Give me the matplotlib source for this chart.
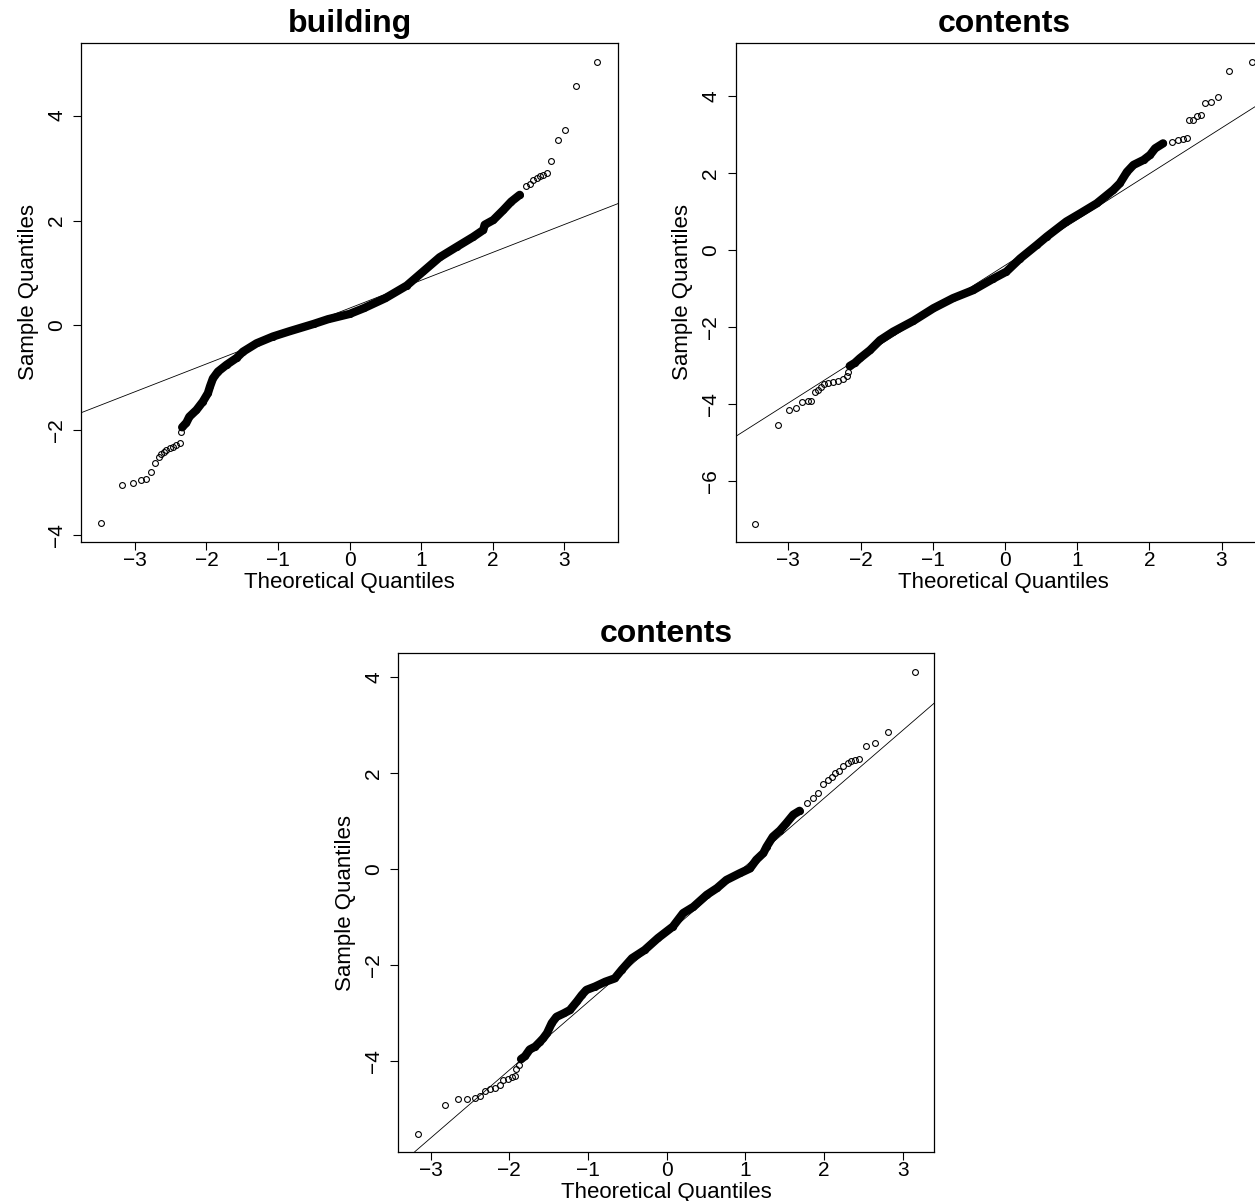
import matplotlib
matplotlib.use("Agg")
import matplotlib.pyplot as plt

plt.rcParams['font.family'] = ['Liberation Sans', 'DejaVu Sans']

# --- building: points (theoretical, sample) ---
building_tail_lo_x = [-3.48, -3.18, -3.03, -2.92, -2.84, -2.78, -2.72, -2.67, -2.64, -2.60,
                      -2.56, -2.51, -2.47, -2.42, -2.37, -2.36]
building_tail_lo_y = [-3.77, -3.04, -3.00, -2.95, -2.93, -2.80, -2.62, -2.50, -2.45, -2.41,
                      -2.38, -2.34, -2.31, -2.27, -2.24, -2.03]
building_mid_x = [-2.34, -2.28, -2.24, -2.14, -2.05, -1.98, -1.95, -1.91, -1.84, -1.72,
                  -1.58, -1.49, -1.30, -1.07, -0.84, -0.50, -0.30, 0.00, 0.20, 0.50,
                  0.80, 1.03, 1.26, 1.50, 1.73, 1.87, 1.89, 2.01, 2.15, 2.26, 2.38]
building_mid_y = [-1.94, -1.85, -1.74, -1.61, -1.45, -1.29, -1.16, -1.01, -0.88, -0.75,
                  -0.62, -0.50, -0.34, -0.21, -0.11, 0.03, 0.12, 0.22, 0.33, 0.52,
                  0.76, 1.03, 1.30, 1.50, 1.69, 1.82, 1.92, 2.01, 2.20, 2.36, 2.49]
building_tail_hi_x = [2.47, 2.52, 2.57, 2.62, 2.66, 2.71, 2.76, 2.82, 2.91, 3.01, 3.16, 3.46]
building_tail_hi_y = [2.65, 2.70, 2.78, 2.81, 2.84, 2.87, 2.90, 3.14, 3.54, 3.72, 4.56, 5.03]
building_line = (0.33, 0.531)  # intercept, slope of the reference line

# --- contents (top right) ---
contents1_tail_lo_x = [-3.46, -3.14, -2.99, -2.89, -2.81, -2.73, -2.68, -2.63, -2.59, -2.55,
                       -2.51, -2.45, -2.38, -2.31, -2.24, -2.19, -2.17]
contents1_tail_lo_y = [-7.10, -4.55, -4.14, -4.10, -3.94, -3.91, -3.91, -3.68, -3.62, -3.55,
                       -3.48, -3.45, -3.43, -3.39, -3.34, -3.27, -3.16]
contents1_mid_x = [-2.15, -2.08, -2.01, -1.87, -1.73, -1.55, -1.27, -0.99, -0.72, -0.44,
                   -0.16, 0.02, 0.21, 0.44, 0.58, 0.85, 1.04, 1.27, 1.50, 1.59,
                   1.69, 1.78, 1.92, 2.01, 2.08, 2.19]
contents1_mid_y = [-3.01, -2.93, -2.81, -2.60, -2.34, -2.12, -1.84, -1.51, -1.25, -1.04,
                   -0.74, -0.56, -0.22, 0.13, 0.35, 0.74, 0.95, 1.21, 1.56, 1.73,
                   2.03, 2.21, 2.34, 2.47, 2.64, 2.77]
contents1_tail_hi_x = [2.31, 2.40, 2.47, 2.52, 2.55, 2.61, 2.66, 2.71, 2.77, 2.85, 2.95, 3.10, 3.42]
contents1_tail_hi_y = [2.81, 2.87, 2.89, 2.92, 3.38, 3.39, 3.48, 3.51, 3.81, 3.85, 3.98, 4.66, 4.88]
contents1_line = (-0.40, 1.19)

# --- contents (bottom) ---
contents2_tail_lo_x = [-3.16, -2.82, -2.65, -2.54, -2.44, -2.37, -2.31, -2.25, -2.18, -2.12,
                       -2.08, -2.01, -1.97, -1.93, -1.91, -1.88]
contents2_tail_lo_y = [-5.51, -4.92, -4.80, -4.79, -4.77, -4.73, -4.62, -4.59, -4.57, -4.51,
                       -4.40, -4.38, -4.33, -4.31, -4.16, -4.09]
contents2_mid_x = [-1.85, -1.80, -1.74, -1.67, -1.61, -1.57, -1.52, -1.46, -1.40, -1.31,
                   -1.23, -1.14, -1.08, -1.02, -0.91, -0.78, -0.66, -0.57, -0.44, -0.28,
                   -0.11, 0.08, 0.21, 0.34, 0.51, 0.64, 0.76, 0.93, 1.06, 1.14,
                   1.23, 1.27, 1.35, 1.44, 1.52, 1.61, 1.69]
contents2_mid_y = [-3.96, -3.90, -3.76, -3.70, -3.60, -3.53, -3.42, -3.21, -3.08, -3.01,
                   -2.94, -2.76, -2.63, -2.52, -2.45, -2.35, -2.28, -2.10, -1.86, -1.69,
                   -1.44, -1.20, -0.92, -0.79, -0.54, -0.40, -0.23, -0.09, 0.01, 0.19,
                   0.33, 0.46, 0.67, 0.80, 0.95, 1.13, 1.21]
contents2_tail_hi_x = [1.78, 1.86, 1.93, 1.99, 2.05, 2.10, 2.14, 2.19, 2.24, 2.30,
                       2.35, 2.40, 2.45, 2.54, 2.65, 2.82, 3.16]
contents2_tail_hi_y = [1.37, 1.47, 1.58, 1.77, 1.85, 1.92, 1.99, 2.05, 2.15, 2.21,
                       2.24, 2.26, 2.28, 2.56, 2.62, 2.86, 4.10]
contents2_line = (-1.36, 1.415)

x_ticks = [-3, -2, -1, 0, 1, 2, 3]


def qq_panel(ax, title, lo_x, lo_y, mid_x, mid_y, hi_x, hi_y, line, xlim, ylim, yticks):
    # dense middle part looks like a solid band of overlapping circles
    ax.plot(mid_x, mid_y, color='black', lw=6.0, solid_capstyle='round',
            solid_joinstyle='round', zorder=2)
    for xs, ys in [(lo_x, lo_y), (mid_x, mid_y), (hi_x, hi_y)]:
        ax.plot(xs, ys, linestyle='none', marker='o', markersize=4.2,
                markerfacecolor='none', markeredgecolor='black', markeredgewidth=0.8,
                zorder=3)
    ax.axline((0, line[0]), slope=line[1], color='black', lw=0.6, zorder=1)

    ax.set_xlim(*xlim)
    ax.set_ylim(*ylim)
    ax.set_xticks(x_ticks)
    ax.set_yticks(yticks)
    ax.set_xticklabels([f"{t:d}".replace('-', '\u2212') for t in x_ticks])
    ax.set_yticklabels([f"{t:d}".replace('-', '\u2212') for t in yticks],
                       rotation=90, va='center')
    ax.tick_params(axis='both', direction='out', length=6, width=0.8,
                   labelsize=15, colors='black')
    ax.tick_params(axis='x', pad=1)
    ax.tick_params(axis='y', pad=5)
    for sp in ax.spines.values():
        sp.set_linewidth(0.9)
        sp.set_color('black')

    ax.set_title(title, fontsize=23, fontweight='bold', pad=8)
    ax.set_xlabel('Theoretical Quantiles', fontsize=16, labelpad=1)
    ax.set_ylabel('Sample Quantiles', fontsize=16, labelpad=6)


fig = plt.figure(figsize=(12.55, 12.01), dpi=100)
ax1 = fig.add_axes([0.0648, 0.5490, 0.4274, 0.4150])
ax2 = fig.add_axes([0.5862, 0.5490, 0.4274, 0.4150])
ax3 = fig.add_axes([0.3174, 0.0410, 0.4269, 0.4150])

qq_panel(ax1, 'building', building_tail_lo_x, building_tail_lo_y,
         building_mid_x, building_mid_y, building_tail_hi_x, building_tail_hi_y,
         building_line, (-3.75, 3.75), (-4.12, 5.38), [-4, -2, 0, 2, 4])
qq_panel(ax2, 'contents', contents1_tail_lo_x, contents1_tail_lo_y,
         contents1_mid_x, contents1_mid_y, contents1_tail_hi_x, contents1_tail_hi_y,
         contents1_line, (-3.73, 3.70), (-7.57, 5.37), [-6, -4, -2, 0, 2, 4])
qq_panel(ax3, 'contents', contents2_tail_lo_x, contents2_tail_lo_y,
         contents2_mid_x, contents2_mid_y, contents2_tail_hi_x, contents2_tail_hi_y,
         contents2_line, (-3.41, 3.40), (-5.89, 4.49), [-4, -2, 0, 2, 4])

fig.savefig('out.png', dpi=100)
